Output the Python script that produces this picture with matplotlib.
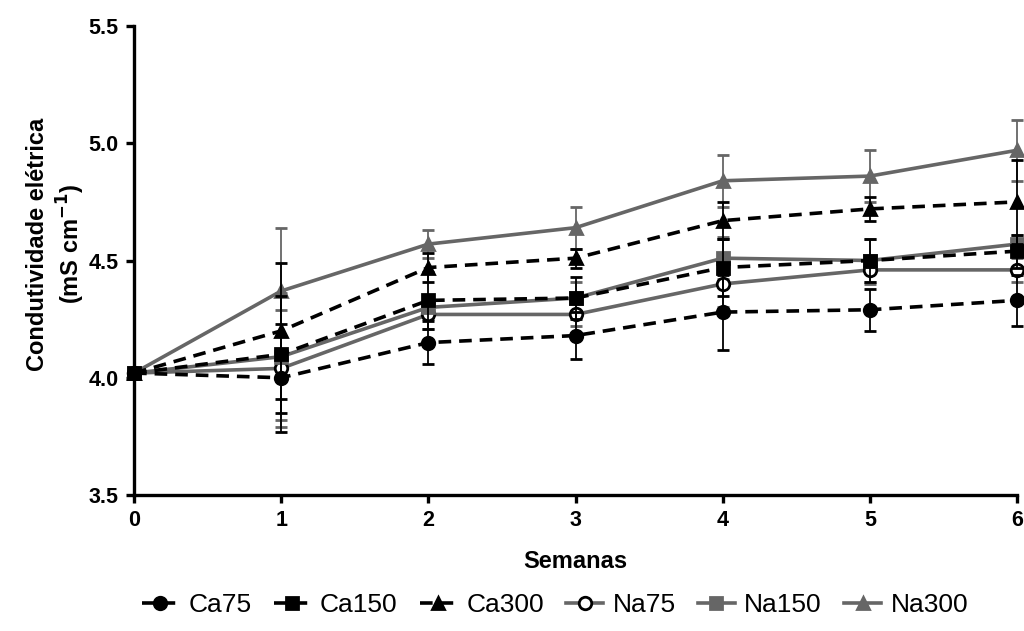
import matplotlib
matplotlib.use("Agg")
import matplotlib.pyplot as plt
from matplotlib.lines import Line2D

plt.rcParams["font.family"] = ["Liberation Sans", "DejaVu Sans"]

weeks = [0, 1, 2, 3, 4, 5, 6]

ca75 = [4.02, 4.00, 4.15, 4.18, 4.28, 4.29, 4.33]
ca75_sd = [0.0, 0.23, 0.09, 0.10, 0.16, 0.09, 0.11]
ca150 = [4.02, 4.10, 4.33, 4.34, 4.47, 4.50, 4.54]
ca150_sd = [0.0, 0.25, 0.12, 0.09, 0.12, 0.09, 0.07]
ca300 = [4.02, 4.20, 4.47, 4.51, 4.67, 4.72, 4.75]
ca300_sd = [0.0, 0.29, 0.06, 0.04, 0.08, 0.05, 0.18]
na75 = [4.02, 4.04, 4.27, 4.27, 4.40, 4.46, 4.46]
na75_sd = [0.0, 0.25, 0.06, 0.05, 0.10, 0.06, 0.05]
na150 = [4.02, 4.09, 4.30, 4.34, 4.51, 4.50, 4.57]
na150_sd = [0.0, 0.27, 0.05, 0.07, 0.09, 0.09, 0.04]
na300 = [4.02, 4.37, 4.57, 4.64, 4.84, 4.86, 4.97]
na300_sd = [0.0, 0.27, 0.06, 0.09, 0.11, 0.11, 0.13]

GRAY = "#666666"
DASHES = (3.5, 2.2)

series = [
    ("Ca75", ca75, ca75_sd, "black", "--", "o", "black", "black"),
    ("Ca150", ca150, ca150_sd, "black", "--", "s", "black", "black"),
    ("Ca300", ca300, ca300_sd, "black", "--", "^", "black", "black"),
    ("Na75", na75, na75_sd, GRAY, "-", "o", "white", "black"),
    ("Na150", na150, na150_sd, GRAY, "-", "s", GRAY, GRAY),
    ("Na300", na300, na300_sd, GRAY, "-", "^", GRAY, GRAY),
]

fig = plt.figure(figsize=(10.24, 6.31), dpi=100)
ax = fig.add_axes([0.1309, 0.2155, 0.8623, 0.7433])

# gray (Na) drawn first, black dashed on top
order = [3, 4, 5, 0, 1, 2]
for i in order:
    name, values, sd, color, style, marker, face, edge = series[i]
    ax.errorbar(
        weeks, values, yerr=sd, color=color, linestyle=style, linewidth=2.6,
        marker=marker, markersize=9, markerfacecolor=face,
        markeredgecolor=edge, markeredgewidth=2.0,
        ecolor=color, elinewidth=1.3, capsize=4, capthick=1.3,
        dashes=DASHES if style == "--" else (None, None),
        clip_on=False, zorder=3 if color == "black" else 2,
    )

ax.set_xlim(0, 6)
ax.set_ylim(3.5, 5.5)
ax.set_xticks(weeks)
ax.set_yticks([3.5, 4.0, 4.5, 5.0, 5.5])
ax.set_yticklabels(["3.5", "4.0", "4.5", "5.0", "5.5"])

for side in ("top", "right"):
    ax.spines[side].set_visible(False)
for side in ("left", "bottom"):
    ax.spines[side].set_linewidth(2.4)
ax.tick_params(width=2.4, length=6, direction="out", labelsize=15.5, pad=5)
for label in ax.get_xticklabels() + ax.get_yticklabels():
    label.set_fontweight("bold")

ax.set_xlabel("Semanas", fontsize=17, fontweight="bold")
ax.xaxis.set_label_coords(0.5, -0.118)
fig.text(0.055, 0.613, "Condutividade elétrica\n(mS cm$^{\\mathbf{-1}}$)",
         rotation=90, ha="center", va="center", fontsize=17,
         fontweight="bold", linespacing=1.25)

handles = []
for name, values, sd, color, style, marker, face, edge in series:
    handles.append(Line2D(
        [], [], color=color, linestyle=style, linewidth=2.6,
        dashes=DASHES if style == "--" else (None, None),
        marker=marker, markersize=9, markerfacecolor=face,
        markeredgecolor=edge, markeredgewidth=2.0,
    ))
fig.legend(handles, [s[0] for s in series], loc="center",
           bbox_to_anchor=(0.542, 0.041), ncol=6, frameon=False, fontsize=19,
           handlelength=1.4, handletextpad=0.35, columnspacing=0.85)

fig.savefig("out.png", dpi=100)
